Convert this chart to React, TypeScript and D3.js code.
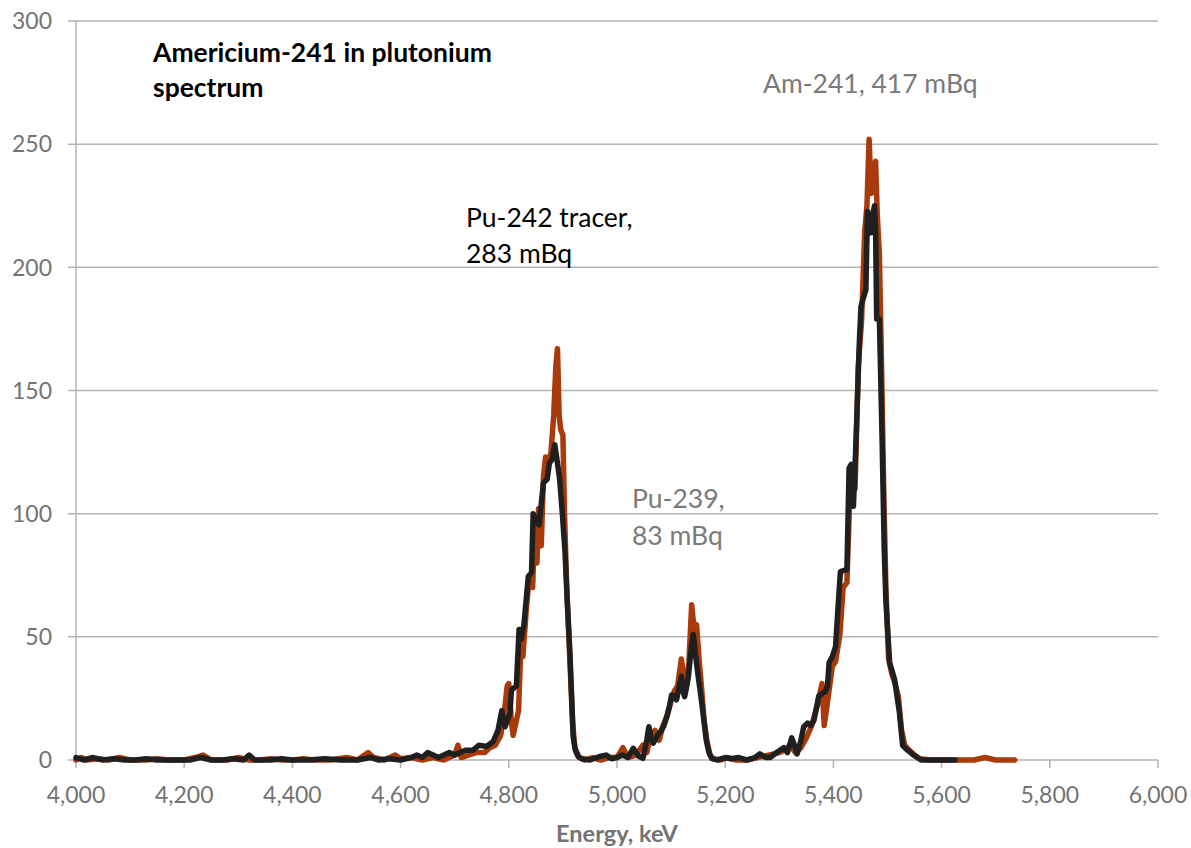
import React, { useEffect, useRef } from "react";
import * as d3 from "d3";

// Am-241 sample (orange) : energy keV / counts
const orangeEnergy = [
  4000, 4010, 4020, 4040, 4060, 4080, 4100, 4130, 4150, 4170, 4200, 4220, 4235, 4250, 4280, 4300, 4320, 4340,
  4360, 4380, 4400, 4420, 4440, 4470, 4500, 4520, 4540, 4550, 4570, 4590, 4600, 4620, 4640, 4660, 4680, 4700,
  4706, 4712, 4725, 4740, 4755, 4765, 4775, 4785, 4792, 4797, 4800, 4805, 4808, 4812, 4818, 4822, 4826, 4832,
  4838, 4844, 4848, 4852, 4855, 4860, 4864, 4868, 4873, 4878, 4883, 4887, 4890, 4893, 4896, 4900, 4903, 4907,
  4912, 4918, 4922, 4930, 4940, 4955, 4970, 4985, 5000, 5011, 5020, 5035, 5048, 5055, 5062, 5070, 5078, 5085,
  5093, 5100, 5106, 5112, 5119, 5124, 5128, 5133, 5138, 5143, 5147, 5152, 5156, 5161, 5166, 5172, 5178, 5190,
  5205, 5220, 5240, 5260, 5280, 5300, 5310, 5320, 5330, 5340, 5350, 5360, 5370, 5379, 5383, 5390, 5398, 5404,
  5412, 5418, 5425, 5430, 5436, 5440, 5446, 5452, 5458, 5462, 5466, 5470, 5474, 5478, 5481, 5485, 5489, 5493,
  5497, 5502, 5508, 5514, 5520, 5526, 5532, 5540, 5550, 5560, 5580, 5620, 5660, 5680, 5700, 5735,
];
const orangeCounts = [
  0, 1, 0, 0.5, 0, 1, 0, 0, 0.5, 0, 0, 1, 2, 0, 0, 1, 0, 0,
  0.5, 0, 0, 0.5, 0, 0, 1, 0, 3, 1, 0, 2, 0.5, 1, 0, 1, 0, 2,
  6, 1, 2, 3, 3, 5, 6, 10, 20, 30, 31, 15, 10, 14, 20, 45, 42, 60,
  75, 70, 95, 80, 102, 87, 115, 123, 120, 125, 140, 160, 167, 140, 134, 132, 100, 70,
  45, 15, 5, 1, 0, 1, 0, 1, 1, 5, 1, 2, 6, 3, 10, 12, 8, 14,
  18, 24, 28, 30, 41, 32, 30, 40, 63, 52, 55, 40, 30, 16, 8, 2, 0.5, 0,
  1, 0, 0, 1, 2, 3, 4, 6, 3, 5, 9, 14, 22, 31, 14, 25, 38, 40,
  51, 70, 72, 105, 118, 110, 160, 178, 215, 225, 252, 230, 240, 243, 222, 205, 160, 110,
  70, 41, 35, 31, 26, 12, 6, 4, 2, 0.5, 0, 0, 0, 1, 0, 0,
];

// Pu-242 tracer (black) : energy keV / counts
const blackEnergy = [
  4000, 4015, 4030, 4050, 4070, 4090, 4110, 4130, 4150, 4180, 4210, 4230, 4250, 4270, 4290, 4310, 4320, 4330,
  4360, 4380, 4400, 4430, 4460, 4490, 4520, 4545, 4560, 4580, 4600, 4620, 4630, 4640, 4650, 4660, 4670, 4680,
  4690, 4700, 4710, 4720, 4734, 4745, 4759, 4771, 4780, 4787, 4793, 4802, 4805, 4814, 4819, 4823, 4828, 4836,
  4842, 4845, 4851, 4856, 4864, 4871, 4875, 4880, 4885, 4889, 4894, 4899, 4904, 4908, 4913, 4919, 4923, 4928,
  4935, 4950, 4968, 4980, 4990, 5000, 5010, 5020, 5030, 5040, 5048, 5055, 5059, 5063, 5067, 5075, 5082, 5087,
  5092, 5097, 5101, 5106, 5110, 5115, 5119, 5122, 5125, 5129, 5132, 5137, 5141, 5145, 5150, 5155, 5159, 5165,
  5170, 5175, 5185, 5200, 5210, 5225, 5240, 5255, 5264, 5275, 5283, 5295, 5308, 5315, 5323, 5328, 5333, 5340,
  5345, 5352, 5358, 5364, 5373, 5379, 5385, 5389, 5392, 5398, 5404, 5408, 5413, 5420, 5425, 5429, 5433, 5437,
  5441, 5444, 5448, 5451, 5456, 5460, 5463, 5466, 5469, 5473, 5476, 5478, 5480, 5485, 5490, 5494, 5497, 5504,
  5513, 5522, 5528, 5537, 5550, 5562, 5580, 5600, 5625,
];
const blackCounts = [
  1, 0, 1, 0, 0.5, 0, 0, 0.5, 0, 0, 0, 1, 0, 0, 0.5, 0, 2, 0,
  0, 0.5, 0, 0, 0.5, 0, 0, 1, 0, 0.5, 0, 1, 2, 1, 3, 2, 1, 2,
  3, 2, 3, 4, 4, 6, 5.5, 7.5, 12, 20, 13.5, 19, 28.5, 30, 53, 49, 55, 74.5,
  76, 100, 97, 95.5, 112.5, 114, 120.5, 122, 128, 122, 114, 100, 84, 65, 43.5, 9.5, 4, 1.5,
  0.5, 0, 1.4, 2, 0.5, 1, 2, 1, 4.7, 1.5, 0.7, 8, 13.5, 9, 6.8, 10, 12, 14,
  17.6, 22, 26.4, 26, 24.4, 30, 34, 28, 25.7, 30, 34, 45, 51, 43, 34, 26, 19, 8,
  3, 0.7, 0, 1, 0.5, 1, 0, 1, 2.5, 1, 1, 3, 5, 3, 9, 6, 2.5, 8,
  13.4, 15, 14, 16, 26, 27, 27.7, 30, 39.5, 42, 46, 60, 76.5, 77, 77.3, 118.5, 120, 103,
  125, 143.7, 170, 184, 188, 190.8, 222.7, 218, 214, 222, 225, 215, 179, 179, 130, 85, 64.7, 39.5,
  32.8, 19.3, 5.9, 4, 1.7, 0, 0, 0, 0,
];

const xTicks = [4000, 4200, 4400, 4600, 4800, 5000, 5200, 5400, 5600, 5800, 6000];
const yTicks = [0, 50, 100, 150, 200, 250, 300];

const FONT = "Lato, 'Open Sans', sans-serif";

export default function App() {
  const ref = useRef<SVGSVGElement>(null);

  useEffect(() => {
    const svg = d3.select(ref.current);
    svg.selectAll("*").remove();

    const x = d3.scaleLinear().domain([4000, 6000]).range([76, 1158]);
    const y = d3.scaleLinear().domain([0, 300]).range([760, 21]);

    // gridlines
    svg
      .append("g")
      .selectAll("line")
      .data(yTicks)
      .join("line")
      .attr("x1", 68)
      .attr("x2", 1158)
      .attr("y1", (d) => y(d))
      .attr("y2", (d) => y(d))
      .attr("stroke", "#b3b3b3")
      .attr("stroke-width", 1.5);

    // y axis line
    svg
      .append("line")
      .attr("x1", 76)
      .attr("x2", 76)
      .attr("y1", y(300))
      .attr("y2", y(0))
      .attr("stroke", "#b3b3b3")
      .attr("stroke-width", 1.5);

    // x ticks
    svg
      .append("g")
      .selectAll("line")
      .data(xTicks)
      .join("line")
      .attr("x1", (d) => x(d))
      .attr("x2", (d) => x(d))
      .attr("y1", y(0))
      .attr("y2", y(0) + 8)
      .attr("stroke", "#b3b3b3")
      .attr("stroke-width", 1.5);

    const fmt = d3.format(",");
    svg
      .append("g")
      .selectAll("text")
      .data(xTicks)
      .join("text")
      .attr("x", (d) => x(d))
      .attr("y", 803)
      .attr("text-anchor", "middle")
      .attr("font-family", FONT)
      .attr("font-size", 23)
      .attr("fill", "#737373")
      .text((d) => fmt(d));

    svg
      .append("g")
      .selectAll("text")
      .data(yTicks)
      .join("text")
      .attr("x", 52)
      .attr("y", (d) => y(d) + 8.2)
      .attr("text-anchor", "end")
      .attr("font-family", FONT)
      .attr("font-size", 23)
      .attr("fill", "#737373")
      .text((d) => d);

    svg
      .append("text")
      .attr("x", 617)
      .attr("y", 842)
      .attr("text-anchor", "middle")
      .attr("font-family", FONT)
      .attr("font-weight", "bold")
      .attr("font-size", 23.5)
      .attr("fill", "#737373")
      .text("Energy, keV");

    const line = d3
      .line<[number, number]>()
      .x((d) => x(d[0]))
      .y((d) => y(d[1]));

    const orange = orangeEnergy.map((e, i) => [e, orangeCounts[i]] as [number, number]);
    const black = blackEnergy.map((e, i) => [e, blackCounts[i]] as [number, number]);

    svg
      .append("path")
      .attr("d", line(orange))
      .attr("fill", "none")
      .attr("stroke", "#a83a0b")
      .attr("stroke-width", 5.5)
      .attr("stroke-linejoin", "round")
      .attr("stroke-linecap", "round");

    svg
      .append("path")
      .attr("d", line(black))
      .attr("fill", "none")
      .attr("stroke", "#1f1f1f")
      .attr("stroke-width", 5.5)
      .attr("stroke-linejoin", "round")
      .attr("stroke-linecap", "round");

    // annotations
    const label = (tx: number, ty: number, lines: string[], color: string, bold = false, size = 26.5, lh = 36) => {
      const t = svg
        .append("text")
        .attr("x", tx)
        .attr("y", ty)
        .attr("font-family", FONT)
        .attr("font-size", size)
        .attr("font-weight", bold ? "bold" : "normal")
        .attr("fill", color);
      lines.forEach((s, i) => {
        t.append("tspan").attr("x", tx).attr("dy", i === 0 ? 0 : lh).text(s);
      });
    };

    label(153, 62, ["Americium-241 in plutonium", "spectrum"], "#000", true, 26.5, 35);
    label(466, 227, ["Pu-242 tracer,", "283 mBq"], "#000");
    label(763, 93, ["Am-241, 417 mBq"], "#7a7a7a");
    label(632, 508, ["Pu-239,", "83 mBq"], "#7a7a7a", false, 26.5, 37);
  }, []);

  return (
    <div>
      <style>{`body{margin:0}`}</style>
      <svg ref={ref} width={1191} height={848} style={{ display: "block", background: "#fff" }} />
    </div>
  );
}
